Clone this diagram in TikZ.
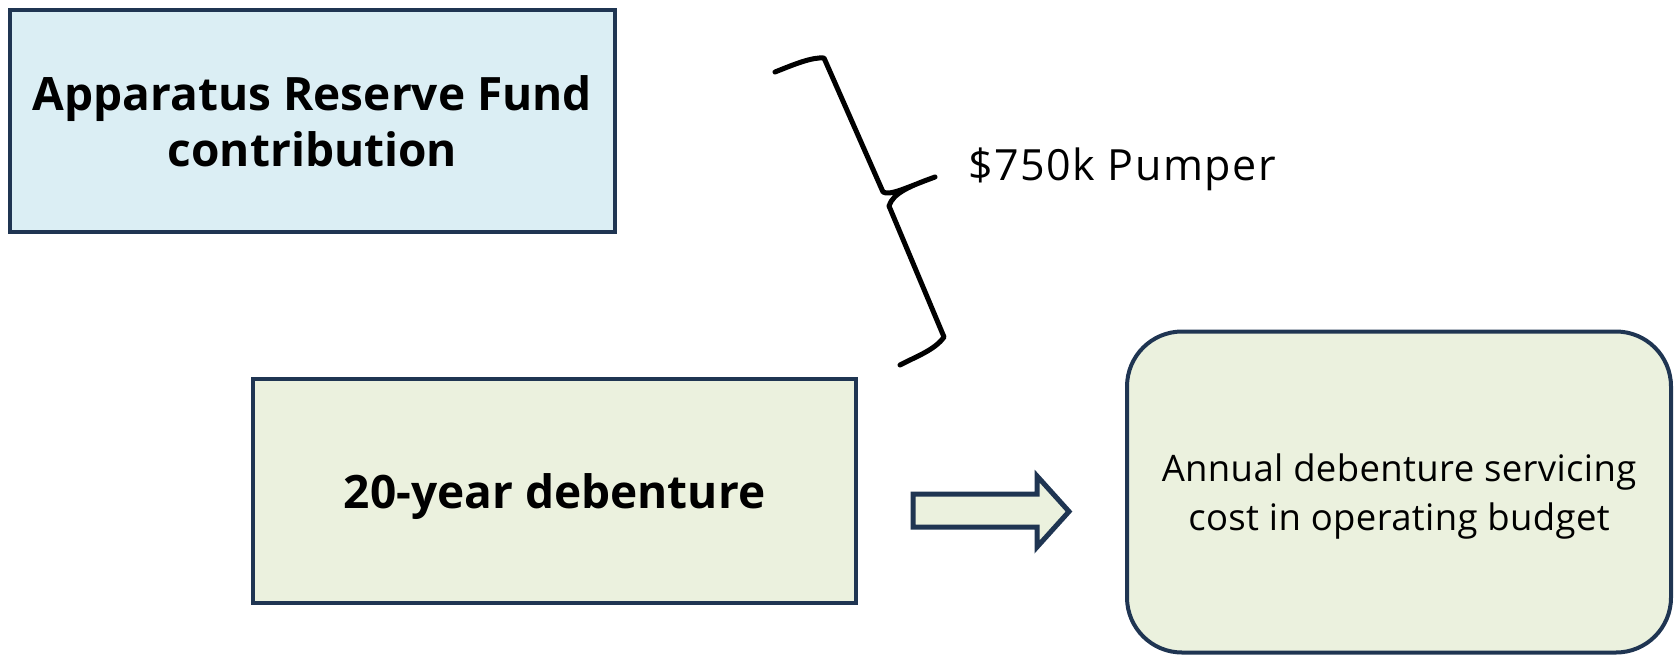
\documentclass[tikz,border=0pt]{standalone}
\usepackage{fontspec}
\setmainfont{Open Sans}
\begin{document}
\begin{tikzpicture}[x=1pt,y=-1pt]
\definecolor{edgecolor}{HTML}{1F3552}
\definecolor{bluefill}{HTML}{DBEEF4}
\definecolor{greenfill}{HTML}{EBF1DE}
\tikzset{
  fundbox/.style = {draw = edgecolor, line width = 4pt, align = center, inner sep = 0pt},
  brace/.style = {draw = black, line width = 5pt, line join = round, line cap = round}
}
\useasboundingbox (0,0) rectangle (1677,656);
\node[fundbox, fill = bluefill, minimum width = 605, minimum height = 222, font = \fontsize{46}{56}\selectfont\bfseries] (fund) at (312.5,121) {Apparatus Reserve Fund\\contribution};
\node[fundbox, fill = greenfill, minimum width = 603, minimum height = 224, font = \fontsize{46}{56}\selectfont\bfseries] (debenture) at (554.5,491) {\rule{0pt}{47pt}20-year debenture};
\node[fundbox, fill = greenfill, rounded corners = 55, minimum width = 544, minimum height = 321, font = \fontsize{36.5}{49}\selectfont\addfontfeatures{LetterSpace=1}] (annual) at (1399,492) {\rule{0pt}{36pt}Annual debenture servicing\\cost in operating budget};
\node[anchor = west, inner sep = 0pt, font = \fontsize{43}{50}\selectfont\addfontfeatures{LetterSpace=3.5}] (pumper) at (968,169) {\$750k Pumper};
% brace
\draw[brace] (775,72) .. controls (795,64) and (812,57) .. (824,58) -- (883,192) .. controls (890,196) and (905,188) .. (935,177)
  .. controls (910,186) and (893,193) .. (889,206) -- (944,337) .. controls (935,350) and (915,357) .. (900,365);
% block arrow
\draw[draw = edgecolor, fill = greenfill, line width = 5pt, line join = miter] (913,494) -- (1037,494) -- (1037,476) -- (1069,511.5) -- (1037,547) -- (1037,527) -- (913,527) -- cycle;
\end{tikzpicture}
\end{document}
